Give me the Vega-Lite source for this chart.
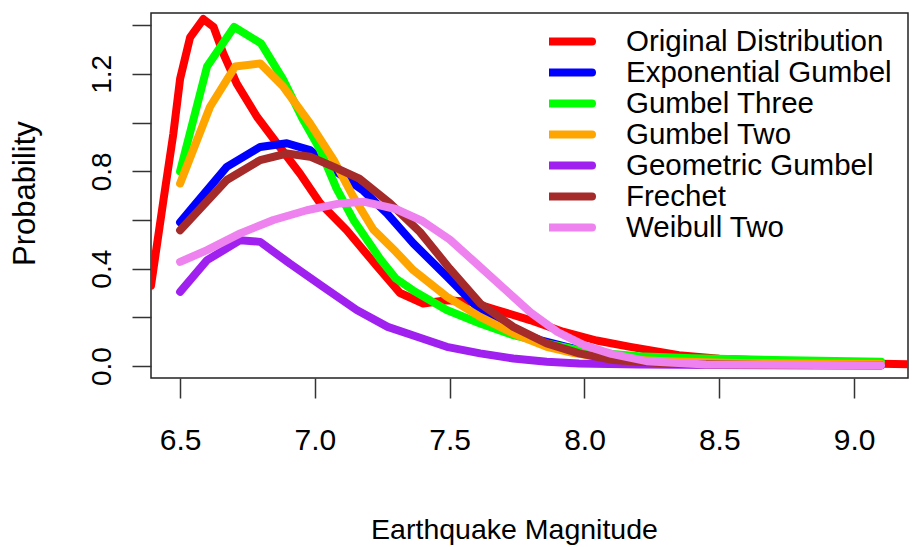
{
  "$schema": "https://vega.github.io/schema/vega-lite/v6.json",
  "width": 757,
  "height": 365,
  "autosize": {"type": "none"},
  "padding": {"left": 151, "top": 13, "right": 5, "bottom": 169},
  "background": "white",
  "config": {
    "font": "Liberation Sans",
    "view": {"stroke": "#222", "strokeWidth": 1.5},
    "axis": {"domain": false, "grid": false, "tickColor": "#333", "tickWidth": 1.5, "labelColor": "black", "titleColor": "black", "titleFontWeight": "normal", "labelOverlap": false}
  },
  "data": {"values": [
    {"series": "Original Distribution", "magnitude": 6.392, "probability": 0.33},
    {"series": "Original Distribution", "magnitude": 6.438, "probability": 0.68},
    {"series": "Original Distribution", "magnitude": 6.475, "probability": 0.955},
    {"series": "Original Distribution", "magnitude": 6.5, "probability": 1.18},
    {"series": "Original Distribution", "magnitude": 6.537, "probability": 1.35},
    {"series": "Original Distribution", "magnitude": 6.586, "probability": 1.425},
    {"series": "Original Distribution", "magnitude": 6.624, "probability": 1.393},
    {"series": "Original Distribution", "magnitude": 6.66, "probability": 1.284},
    {"series": "Original Distribution", "magnitude": 6.71, "probability": 1.16},
    {"series": "Original Distribution", "magnitude": 6.785, "probability": 1.024},
    {"series": "Original Distribution", "magnitude": 6.859, "probability": 0.915},
    {"series": "Original Distribution", "magnitude": 6.945, "probability": 0.79},
    {"series": "Original Distribution", "magnitude": 7.02, "probability": 0.668},
    {"series": "Original Distribution", "magnitude": 7.118, "probability": 0.558},
    {"series": "Original Distribution", "magnitude": 7.23, "probability": 0.41},
    {"series": "Original Distribution", "magnitude": 7.316, "probability": 0.3},
    {"series": "Original Distribution", "magnitude": 7.402, "probability": 0.257},
    {"series": "Original Distribution", "magnitude": 7.489, "probability": 0.27},
    {"series": "Original Distribution", "magnitude": 7.576, "probability": 0.264},
    {"series": "Original Distribution", "magnitude": 7.675, "probability": 0.23},
    {"series": "Original Distribution", "magnitude": 7.798, "probability": 0.189},
    {"series": "Original Distribution", "magnitude": 7.92, "probability": 0.141},
    {"series": "Original Distribution", "magnitude": 8.045, "probability": 0.105},
    {"series": "Original Distribution", "magnitude": 8.17, "probability": 0.079},
    {"series": "Original Distribution", "magnitude": 8.35, "probability": 0.045},
    {"series": "Original Distribution", "magnitude": 8.5, "probability": 0.03},
    {"series": "Original Distribution", "magnitude": 8.8, "probability": 0.018},
    {"series": "Original Distribution", "magnitude": 9.0, "probability": 0.012},
    {"series": "Original Distribution", "magnitude": 9.2, "probability": 0.007},

    {"series": "Exponential Gumbel", "magnitude": 6.5, "probability": 0.59},
    {"series": "Exponential Gumbel", "magnitude": 6.548, "probability": 0.654},
    {"series": "Exponential Gumbel", "magnitude": 6.673, "probability": 0.818},
    {"series": "Exponential Gumbel", "magnitude": 6.797, "probability": 0.9},
    {"series": "Exponential Gumbel", "magnitude": 6.896, "probability": 0.915},
    {"series": "Exponential Gumbel", "magnitude": 6.982, "probability": 0.887},
    {"series": "Exponential Gumbel", "magnitude": 7.07, "probability": 0.805},
    {"series": "Exponential Gumbel", "magnitude": 7.18, "probability": 0.72},
    {"series": "Exponential Gumbel", "magnitude": 7.267, "probability": 0.627},
    {"series": "Exponential Gumbel", "magnitude": 7.365, "probability": 0.504},
    {"series": "Exponential Gumbel", "magnitude": 7.49, "probability": 0.367},
    {"series": "Exponential Gumbel", "magnitude": 7.613, "probability": 0.23},
    {"series": "Exponential Gumbel", "magnitude": 7.736, "probability": 0.148},
    {"series": "Exponential Gumbel", "magnitude": 7.835, "probability": 0.107},
    {"series": "Exponential Gumbel", "magnitude": 7.934, "probability": 0.079},
    {"series": "Exponential Gumbel", "magnitude": 8.05, "probability": 0.05},
    {"series": "Exponential Gumbel", "magnitude": 8.2, "probability": 0.03},
    {"series": "Exponential Gumbel", "magnitude": 8.5, "probability": 0.02},
    {"series": "Exponential Gumbel", "magnitude": 8.8, "probability": 0.015},
    {"series": "Exponential Gumbel", "magnitude": 9.1, "probability": 0.012},

    {"series": "Gumbel Three", "magnitude": 6.5, "probability": 0.8},
    {"series": "Gumbel Three", "magnitude": 6.6, "probability": 1.23},
    {"series": "Gumbel Three", "magnitude": 6.7, "probability": 1.393},
    {"series": "Gumbel Three", "magnitude": 6.8, "probability": 1.325},
    {"series": "Gumbel Three", "magnitude": 6.883, "probability": 1.175},
    {"series": "Gumbel Three", "magnitude": 6.957, "probability": 1.01},
    {"series": "Gumbel Three", "magnitude": 7.02, "probability": 0.887},
    {"series": "Gumbel Three", "magnitude": 7.08, "probability": 0.73},
    {"series": "Gumbel Three", "magnitude": 7.143, "probability": 0.6},
    {"series": "Gumbel Three", "magnitude": 7.242, "probability": 0.44},
    {"series": "Gumbel Three", "magnitude": 7.3, "probability": 0.36},
    {"series": "Gumbel Three", "magnitude": 7.365, "probability": 0.31},
    {"series": "Gumbel Three", "magnitude": 7.489, "probability": 0.23},
    {"series": "Gumbel Three", "magnitude": 7.613, "probability": 0.175},
    {"series": "Gumbel Three", "magnitude": 7.736, "probability": 0.127},
    {"series": "Gumbel Three", "magnitude": 7.86, "probability": 0.093},
    {"series": "Gumbel Three", "magnitude": 8.0, "probability": 0.06},
    {"series": "Gumbel Three", "magnitude": 8.2, "probability": 0.04},
    {"series": "Gumbel Three", "magnitude": 8.4, "probability": 0.032},
    {"series": "Gumbel Three", "magnitude": 8.7, "probability": 0.025},
    {"series": "Gumbel Three", "magnitude": 9.1, "probability": 0.018},

    {"series": "Gumbel Two", "magnitude": 6.5, "probability": 0.75},
    {"series": "Gumbel Two", "magnitude": 6.611, "probability": 1.065},
    {"series": "Gumbel Two", "magnitude": 6.704, "probability": 1.23},
    {"series": "Gumbel Two", "magnitude": 6.797, "probability": 1.243},
    {"series": "Gumbel Two", "magnitude": 6.883, "probability": 1.147},
    {"series": "Gumbel Two", "magnitude": 6.982, "probability": 0.997},
    {"series": "Gumbel Two", "magnitude": 7.07, "probability": 0.846},
    {"series": "Gumbel Two", "magnitude": 7.14, "probability": 0.7},
    {"series": "Gumbel Two", "magnitude": 7.217, "probability": 0.56},
    {"series": "Gumbel Two", "magnitude": 7.3, "probability": 0.47},
    {"series": "Gumbel Two", "magnitude": 7.365, "probability": 0.394},
    {"series": "Gumbel Two", "magnitude": 7.489, "probability": 0.285},
    {"series": "Gumbel Two", "magnitude": 7.613, "probability": 0.202},
    {"series": "Gumbel Two", "magnitude": 7.736, "probability": 0.134},
    {"series": "Gumbel Two", "magnitude": 7.86, "probability": 0.079},
    {"series": "Gumbel Two", "magnitude": 7.96, "probability": 0.053},
    {"series": "Gumbel Two", "magnitude": 8.1, "probability": 0.03},
    {"series": "Gumbel Two", "magnitude": 8.3, "probability": 0.02},
    {"series": "Gumbel Two", "magnitude": 8.6, "probability": 0.012},
    {"series": "Gumbel Two", "magnitude": 9.1, "probability": 0.008},

    {"series": "Geometric Gumbel", "magnitude": 6.5, "probability": 0.305},
    {"series": "Geometric Gumbel", "magnitude": 6.6, "probability": 0.435},
    {"series": "Geometric Gumbel", "magnitude": 6.723, "probability": 0.517},
    {"series": "Geometric Gumbel", "magnitude": 6.797, "probability": 0.51},
    {"series": "Geometric Gumbel", "magnitude": 6.908, "probability": 0.42},
    {"series": "Geometric Gumbel", "magnitude": 7.03, "probability": 0.326},
    {"series": "Geometric Gumbel", "magnitude": 7.155, "probability": 0.23},
    {"series": "Geometric Gumbel", "magnitude": 7.27, "probability": 0.161},
    {"series": "Geometric Gumbel", "magnitude": 7.39, "probability": 0.116},
    {"series": "Geometric Gumbel", "magnitude": 7.489, "probability": 0.079},
    {"series": "Geometric Gumbel", "magnitude": 7.613, "probability": 0.052},
    {"series": "Geometric Gumbel", "magnitude": 7.736, "probability": 0.031},
    {"series": "Geometric Gumbel", "magnitude": 7.86, "probability": 0.018},
    {"series": "Geometric Gumbel", "magnitude": 7.98, "probability": 0.011},
    {"series": "Geometric Gumbel", "magnitude": 8.2, "probability": 0.006},
    {"series": "Geometric Gumbel", "magnitude": 8.5, "probability": 0.004},
    {"series": "Geometric Gumbel", "magnitude": 9.1, "probability": 0.002},

    {"series": "Frechet", "magnitude": 6.5, "probability": 0.558},
    {"series": "Frechet", "magnitude": 6.673, "probability": 0.764},
    {"series": "Frechet", "magnitude": 6.797, "probability": 0.846},
    {"series": "Frechet", "magnitude": 6.896, "probability": 0.873},
    {"series": "Frechet", "magnitude": 6.982, "probability": 0.86},
    {"series": "Frechet", "magnitude": 7.07, "probability": 0.818},
    {"series": "Frechet", "magnitude": 7.165, "probability": 0.77},
    {"series": "Frechet", "magnitude": 7.279, "probability": 0.668},
    {"series": "Frechet", "magnitude": 7.39, "probability": 0.55},
    {"series": "Frechet", "magnitude": 7.5, "probability": 0.4},
    {"series": "Frechet", "magnitude": 7.613, "probability": 0.257},
    {"series": "Frechet", "magnitude": 7.736, "probability": 0.161},
    {"series": "Frechet", "magnitude": 7.86, "probability": 0.093},
    {"series": "Frechet", "magnitude": 7.98, "probability": 0.052},
    {"series": "Frechet", "magnitude": 8.107, "probability": 0.025},
    {"series": "Frechet", "magnitude": 8.3, "probability": 0.01},
    {"series": "Frechet", "magnitude": 8.6, "probability": 0.005},
    {"series": "Frechet", "magnitude": 9.1, "probability": 0.003},

    {"series": "Weibull Two", "magnitude": 6.5, "probability": 0.428},
    {"series": "Weibull Two", "magnitude": 6.6, "probability": 0.476},
    {"series": "Weibull Two", "magnitude": 6.723, "probability": 0.545},
    {"series": "Weibull Two", "magnitude": 6.846, "probability": 0.6},
    {"series": "Weibull Two", "magnitude": 6.97, "probability": 0.64},
    {"series": "Weibull Two", "magnitude": 7.093, "probability": 0.668},
    {"series": "Weibull Two", "magnitude": 7.18, "probability": 0.675},
    {"series": "Weibull Two", "magnitude": 7.3, "probability": 0.645},
    {"series": "Weibull Two", "magnitude": 7.4, "probability": 0.595},
    {"series": "Weibull Two", "magnitude": 7.5, "probability": 0.52},
    {"series": "Weibull Two", "magnitude": 7.6, "probability": 0.42},
    {"series": "Weibull Two", "magnitude": 7.7, "probability": 0.32},
    {"series": "Weibull Two", "magnitude": 7.8, "probability": 0.22},
    {"series": "Weibull Two", "magnitude": 7.9, "probability": 0.14},
    {"series": "Weibull Two", "magnitude": 8.0, "probability": 0.085},
    {"series": "Weibull Two", "magnitude": 8.1, "probability": 0.05},
    {"series": "Weibull Two", "magnitude": 8.23, "probability": 0.02},
    {"series": "Weibull Two", "magnitude": 8.45, "probability": 0.006},
    {"series": "Weibull Two", "magnitude": 9.1, "probability": 0.003}
  ]},
  "mark": {"type": "line", "strokeWidth": 8, "strokeCap": "round", "strokeJoin": "round", "clip": true},
  "encoding": {
    "x": {
      "field": "magnitude", "type": "quantitative",
      "scale": {"domain": [6.392, 9.2], "nice": false, "zero": false},
      "axis": {
        "values": [6.5, 7.0, 7.5, 8.0, 8.5, 9.0], "format": ".1f",
        "tickSize": 20, "labelPadding": 27,
        "labelFont": "Liberation Sans", "labelFontSize": 30,
        "title": "Earthquake Magnitude",
        "titleFont": "Liberation Sans", "titleFontSize": 28.5,
        "titleX": 363, "titleY": 160, "titleAlign": "center", "titleBaseline": "alphabetic"
      }
    },
    "y": {
      "field": "probability", "type": "quantitative",
      "scale": {"domain": [-0.049, 1.45], "nice": false, "zero": false},
      "axis": {
        "values": [0, 0.2, 0.4, 0.6, 0.8, 1.0, 1.2, 1.4], "format": ".1f",
        "labelExpr": "indexof(['0.0','0.4','0.8','1.2'], datum.label) >= 0 ? datum.label : ''",
        "tickSize": 19, "labelPadding": 16,
        "labelAngle": 270, "labelAlign": "center", "labelBaseline": "bottom",
        "labelFont": "Liberation Sans", "labelFontSize": 28,
        "title": "Probability",
        "titleFont": "Liberation Sans", "titleFontSize": 31,
        "titleAngle": 270, "titleX": -126, "titleY": 180, "titleAlign": "center", "titleBaseline": "middle"
      }
    },
    "color": {
      "field": "series", "type": "nominal",
      "scale": {
        "domain": ["Original Distribution", "Exponential Gumbel", "Gumbel Three", "Gumbel Two", "Geometric Gumbel", "Frechet", "Weibull Two"],
        "range": ["#FF0000", "#0000FF", "#00FF00", "#FFA500", "#A020F0", "#A52A2A", "#EE82EE"]
      },
      "legend": {
        "orient": "none", "legendX": 398, "legendY": 15, "title": null,
        "symbolType": "M-2.6,0H2", "symbolSize": 676, "symbolStrokeWidth": 8,
        "labelFont": "Liberation Sans", "labelFontSize": 29.5, "labelColor": "black",
        "labelOffset": 43, "rowPadding": 0, "padding": 0, "labelLimit": 0,
        "clipHeight": 27.2,
        "encode": {
          "symbols": {"update": {"strokeCap": {"value": "round"}}}
        }
      }
    }
  }
}
